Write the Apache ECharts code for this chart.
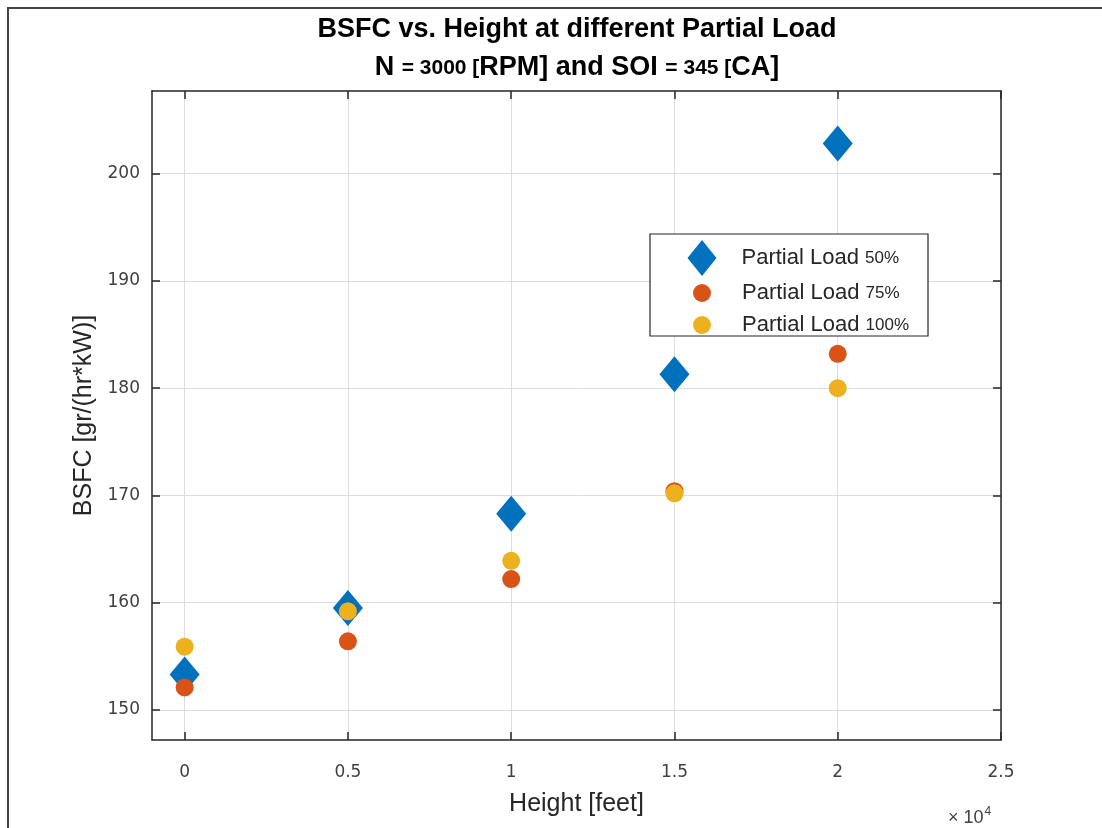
<!DOCTYPE html>
<html>
<head>
<meta charset="utf-8">
<script src="https://cdn.jsdelivr.net/npm/echarts@6/dist/echarts.min.js"></script>
<style>
html, body { margin: 0; padding: 0; background: #fff; }
#main { width: 1102px; height: 828px; }
</style>
</head>
<body>
<div id="main"></div>
<script>
// height in feet, BSFC in gr/(hr*kW)
var heights = [0, 5000, 10000, 15000, 20000];
var load50 = [153.3, 159.5, 168.3, 181.3, 202.8];
var load75 = [152.1, 156.4, 162.2, 170.4, 183.2];
var load100 = [155.9, 159.2, 163.9, 170.2, 180.0];
var seriesNames = ['Partial Load 50%', 'Partial Load 75%', 'Partial Load 100%'];
var xTicks = [0, 5000, 10000, 15000, 20000, 25000];
var xTickLabels = ['0', '0.5', '1', '1.5', '2', '2.5'];
var yTicks = [150, 160, 170, 180, 190, 200];

var FONT = '"Liberation Sans", Arial, sans-serif';
var TICKFONT = '"DejaVu Sans", sans-serif';

function pairs(ys) {
	var out = [];
	for (var i = 0; i < heights.length; i++) {
		out.push([heights[i], ys[i]]);
	}
	return out;
}

function xAxisDef(pos, show) {
	return {
		type: 'value',
		position: pos,
		min: -1000,
		max: 25000,
		axisLine: { show: true, onZero: false, lineStyle: { color: '#262626', width: 1.5 } },
		axisTick: { show: true, inside: true, length: 8, customValues: xTicks, lineStyle: { color: '#262626', width: 1.5 } },
		axisLabel: {
			show: show,
			customValues: xTicks,
			margin: 24,
			color: '#404040',
			fontFamily: TICKFONT,
			fontSize: 17,
			formatter: function(v) {
				var i = xTicks.indexOf(v);
				return i >= 0 ? xTickLabels[i] : '';
			}
		},
		splitLine: { show: show, lineStyle: { color: '#dddddd', width: 1 } }
	};
}

function yAxisDef(pos, show) {
	return {
		type: 'value',
		position: pos,
		min: 147.2,
		max: 207.7,
		axisLine: { show: true, onZero: false, lineStyle: { color: '#262626', width: 1.5 } },
		axisTick: { show: true, inside: true, length: 8, customValues: yTicks, lineStyle: { color: '#262626', width: 1.5 } },
		axisLabel: {
			show: show,
			customValues: yTicks,
			margin: 12,
			color: '#404040',
			fontFamily: TICKFONT,
			fontSize: 17
		},
		splitLine: { show: show, lineStyle: { color: '#dddddd', width: 1 } }
	};
}

function legendDef(name, left, top, w, h, gap) {
	return {
		data: [name],
		left: left,
		top: top,
		itemWidth: w,
		itemHeight: h,
		selectedMode: false,
		z: 5,
		formatter: function(n) {
			var pct = n.replace('Partial Load ', '');
			return '{g|}{a|Partial Load }{b|' + pct + '}';
		},
		textStyle: {
			rich: {
				g: { width: gap },
				a: { fontFamily: FONT, fontSize: 22, color: '#262626' },
				b: { fontFamily: FONT, fontSize: 17, color: '#262626' }
			}
		}
	};
}

var myChart = echarts.init(document.getElementById('main'));
var option = {
	backgroundColor: '#ffffff',
	animation: false,
	grid: { left: 152, top: 91, right: 101, bottom: 88 },
	xAxis: [
		Object.assign(xAxisDef('bottom', true), {
			name: 'Height [feet]',
			nameLocation: 'middle',
			nameGap: 52,
			nameTextStyle: { fontFamily: FONT, fontSize: 25, color: '#262626' }
		}),
		xAxisDef('top', false)
	],
	yAxis: [
		Object.assign(yAxisDef('left', true), {
			name: 'BSFC [gr/(hr*kW)]',
			nameLocation: 'middle',
			nameGap: 54,
			nameTextStyle: { fontFamily: FONT, fontSize: 25, color: '#262626' }
		}),
		yAxisDef('right', false)
	],
	legend: [
		legendDef(seriesNames[0], 682.5, 235, 29, 36, 20),
		legendDef(seriesNames[1], 688, 277, 18, 18, 26),
		legendDef(seriesNames[2], 688, 309, 18, 18, 26)
	],
	graphic: [
		{
			type: 'rect',
			z: 3,
			shape: { x: 650, y: 234, width: 278, height: 102 },
			style: { fill: '#ffffff', stroke: '#262626', lineWidth: 1.2 }
		},
		{
			type: 'text',
			x: 577, y: 30,
			style: {
				text: 'BSFC vs. Height at different Partial Load',
				font: 'bold 27px ' + FONT,
				fill: '#000',
				align: 'center',
				verticalAlign: 'middle'
			}
		},
		{
			type: 'text',
			x: 577, y: 68,
			style: {
				text: '{t|N }{s|= 3000 [}{t|RPM] and SOI }{s|= 345 [}{t|CA]}',
				align: 'center',
				verticalAlign: 'middle',
				rich: {
					t: { font: 'bold 27px ' + FONT, fill: '#000' },
					s: { font: 'bold 21px ' + FONT, fill: '#000' }
				}
			}
		},
		{
			type: 'text',
			x: 948, y: 818,
			style: {
				text: '{m|× 10}{p|4}',
				verticalAlign: 'middle',
				rich: {
					m: { font: '18px ' + FONT, fill: '#404040' },
					p: { font: '12px ' + FONT, fill: '#404040', verticalAlign: 'top', padding: [0, 0, 12, 1] }
				}
			}
		},
		{
			type: 'polyline',
			shape: { points: [[8, 828], [8, 8], [1102, 8]] },
			style: { stroke: '#444444', lineWidth: 2, fill: null }
		}
	],
	series: [
		{
			name: seriesNames[0],
			type: 'scatter',
			symbol: 'diamond',
			symbolSize: [30, 36],
			symbolKeepAspect: false,
			itemStyle: { color: '#0072BD', opacity: 1 },
			data: pairs(load50)
		},
		{
			name: seriesNames[1],
			type: 'scatter',
			symbol: 'circle',
			symbolSize: 18,
			itemStyle: { color: '#D95319', opacity: 1 },
			data: pairs(load75)
		},
		{
			name: seriesNames[2],
			type: 'scatter',
			symbol: 'circle',
			symbolSize: 18,
			itemStyle: { color: '#EDB120', opacity: 1 },
			data: pairs(load100)
		}
	]
};
myChart.setOption(option);
</script>
</body>
</html>
